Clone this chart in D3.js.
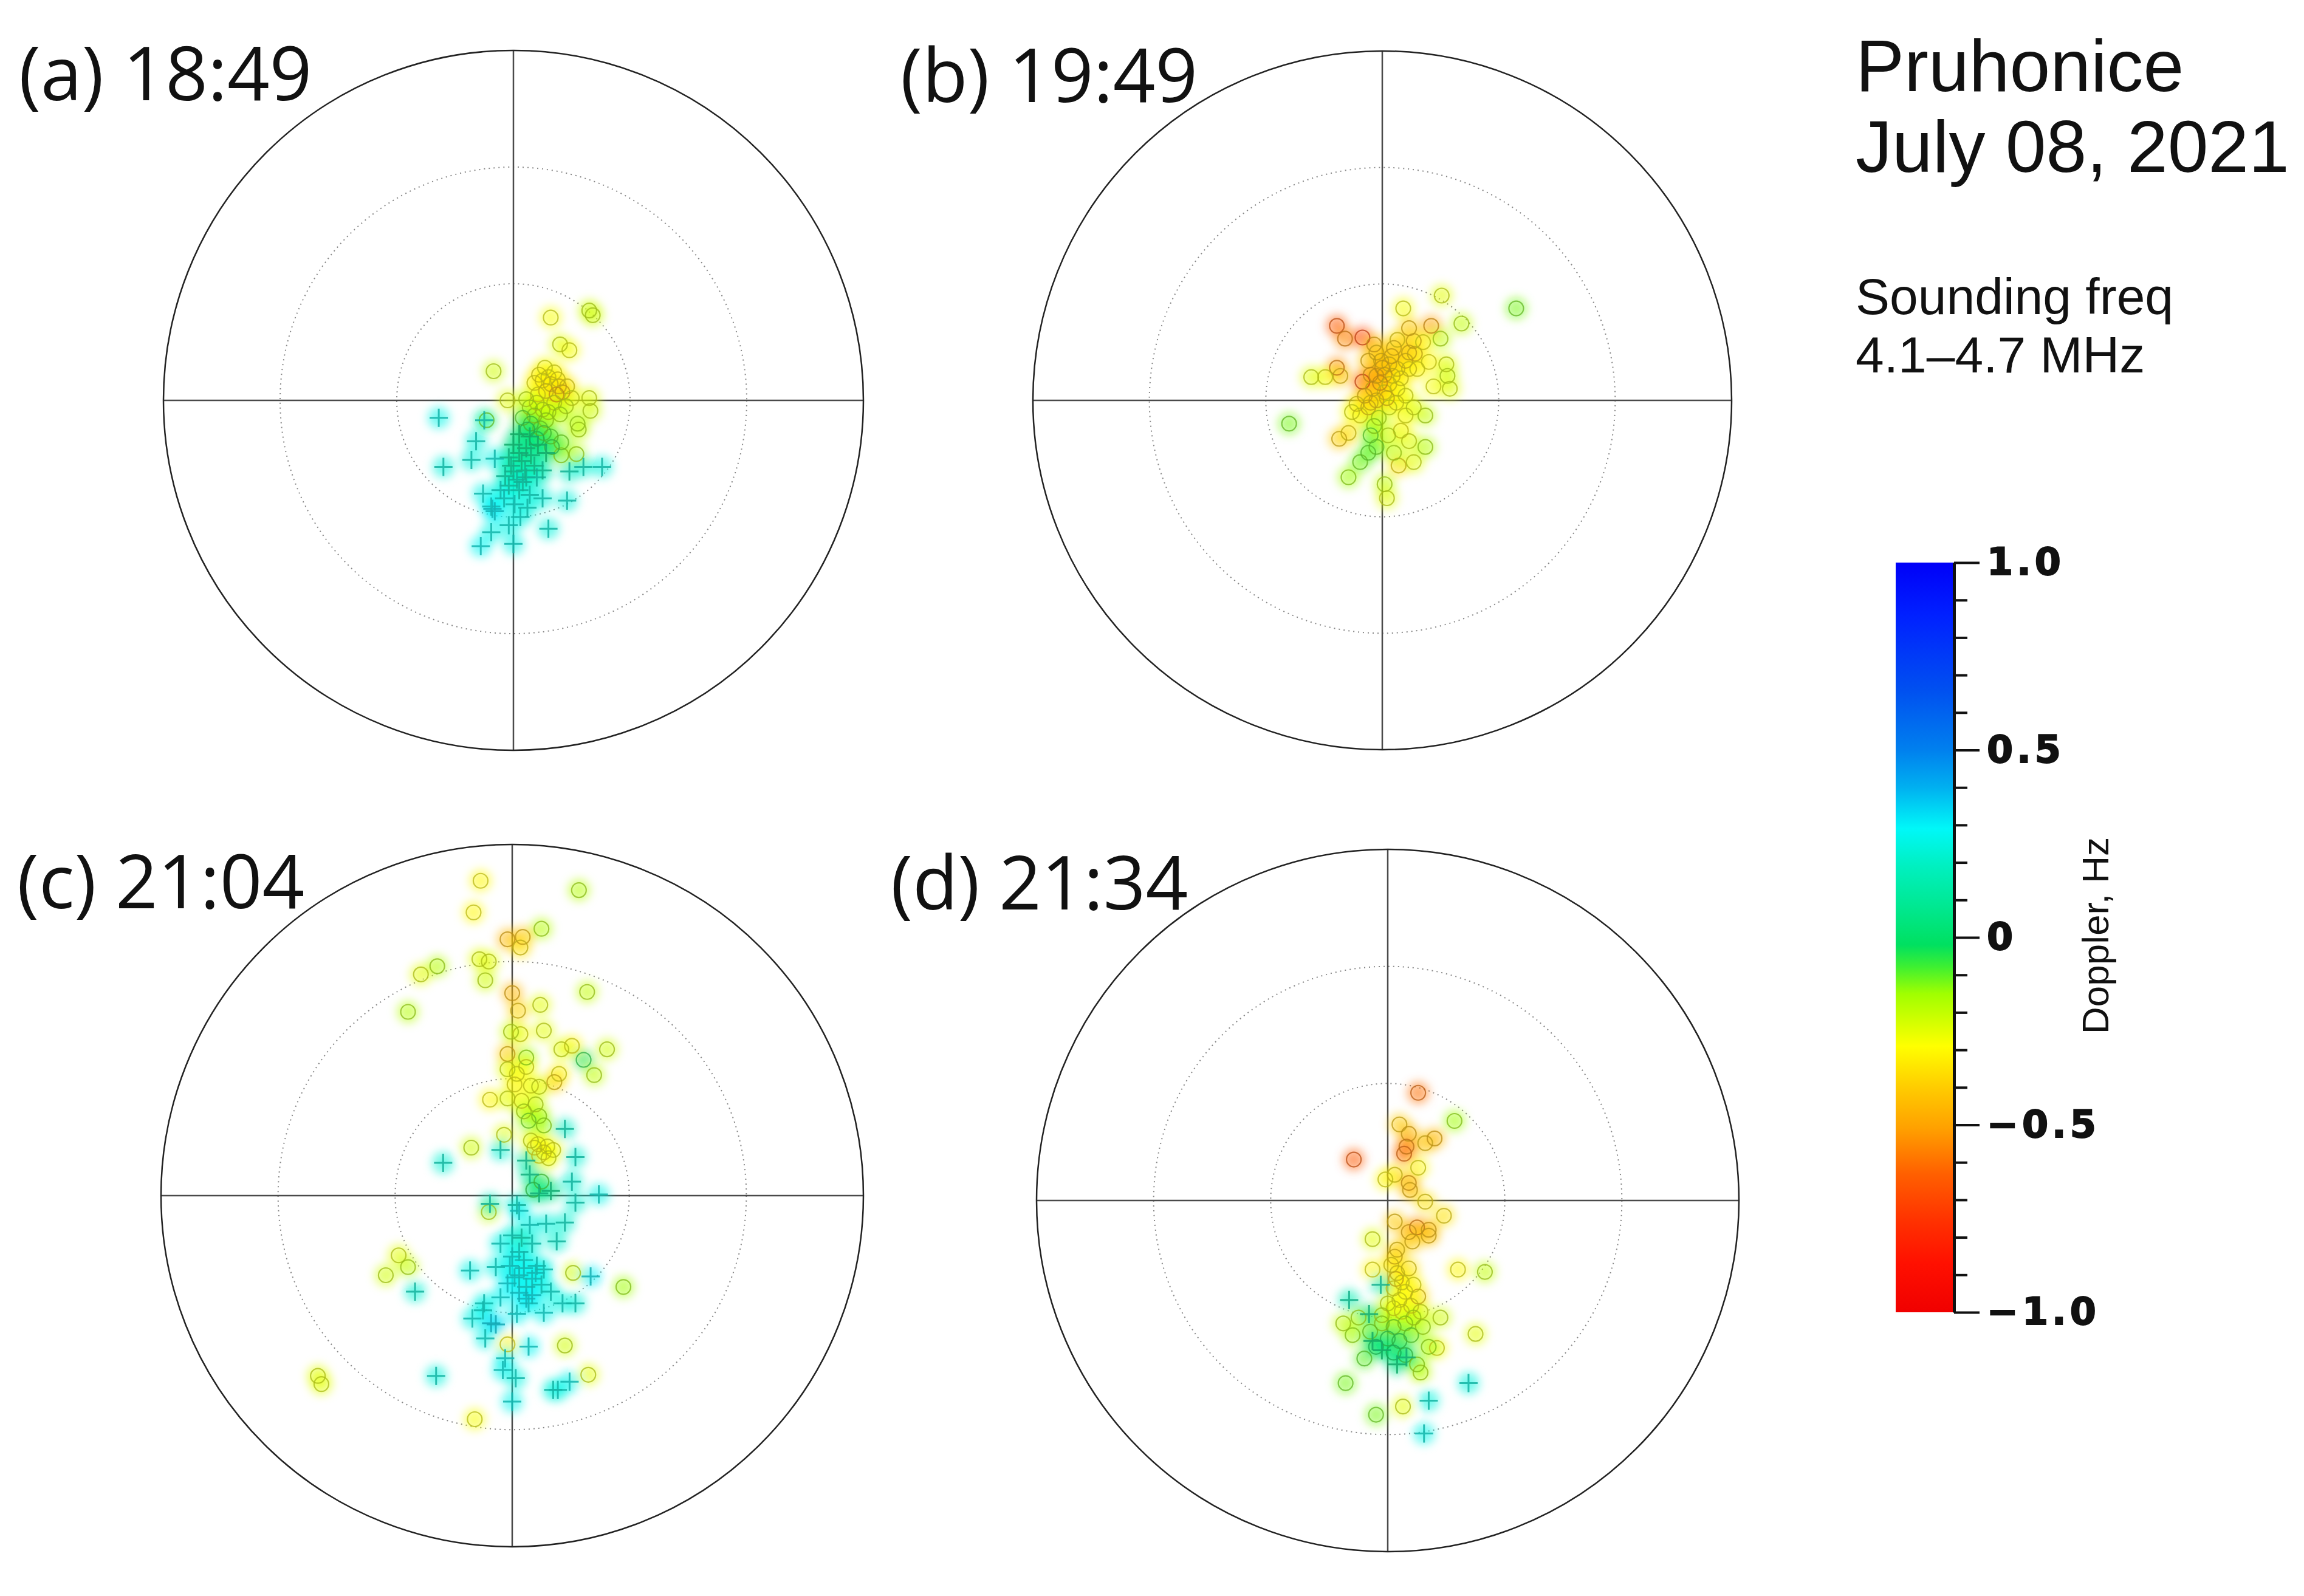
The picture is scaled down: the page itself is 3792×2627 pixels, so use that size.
<!DOCTYPE html>
<html>
<head>
<meta charset="utf-8">
<script src="https://cdn.jsdelivr.net/npm/d3@7"></script>
<style>
  html, body { margin: 0; padding: 0; background: #fff; }
  svg { display: block; }
</style>
</head>
<body>
<svg id="chart" width="3792" height="2627"></svg>
<script>
// panel titles
const panelLetters = ["(a)", "(b)", "(c)", "(d)"];
const panelTimes = ["18:49", "19:49", "21:04", "21:34"];
const stationLines = ["Pruhonice", "July 08, 2021"];
const freqLines = ["Sounding freq", "4.1\u20134.7 MHz"];
const colorbarTitle = "Doppler, Hz";

// rings of the polar plot (outer one is solid)
const ringValues = [1, 2];
const outerRing = 3;

// colour table, Doppler (Hz) -> colour
const colorStops = [1.0, 0.86, 0.66, 0.5, 0.4, 0.29, 0.19, 0.08, -0.02, -0.08, -0.15, -0.29, -0.4, -0.51, -0.63, -0.76, -0.87, -1.0];
const colorStopColors = ["#0000f8", "#0020ff", "#0050f0", "#0080ee", "#00b0f0", "#00f8f8", "#00f0c0", "#00e890", "#00e060",
  "#40f030", "#a0ff00", "#ffff00", "#ffcc00", "#ffa000", "#ff6000", "#ff3000", "#ff1000", "#f00000"];
const colorbarMajorTicks = [-1, -0.5, 0, 0.5, 1];
const colorbarTickLabels = ["\u22121.0", "\u22120.5", "0", "0.5", "1.0"];
const colorbarMinorTicks = [-0.9, -0.8, -0.7, -0.6, -0.4, -0.3, -0.2, -0.1, 0.1, 0.2, 0.3, 0.4, 0.6, 0.7, 0.8, 0.9];

// points: [east, north, doppler]  (east/north in ring units, outer ring = 3)
const pointsA = [
  [0.32, 0.71, -0.28], [0.65, 0.77, -0.22], [0.68, 0.73, -0.22], [0.40, 0.48, -0.25], [0.48, 0.43, -0.28],
  [-0.17, 0.25, -0.22], [0.18, 0.15, -0.3], [0.25, 0.17, -0.32], [0.32, 0.14, -0.35], [0.39, 0.12, -0.38],
  [0.46, 0.12, -0.33], [0.42, 0.07, -0.42], [0.37, 0.05, -0.48], [0.28, 0.08, -0.36], [0.21, 0.05, -0.3],
  [0.30, 0.20, -0.3], [0.35, 0.24, -0.3], [0.27, 0.28, -0.28], [0.22, 0.22, -0.32], [0.65, 0.02, -0.25],
  [0.66, -0.09, -0.22], [0.55, -0.20, -0.18], [0.56, -0.25, -0.2], [-0.05, 0.00, -0.25], [-0.23, -0.17, -0.12],
  [0.41, -0.47, -0.15], [0.54, -0.46, -0.18], [0.14, -0.06, -0.18], [0.25, -0.08, -0.2], [0.18, -0.13, -0.15],
  [0.28, -0.17, -0.16], [0.35, -0.02, -0.25], [0.23, -0.24, -0.12], [0.32, -0.31, -0.1], [0.41, -0.36, -0.12],
  [0.11, 0.01, -0.22], [0.08, -0.15, -0.1], [0.15, -0.20, -0.08], [0.45, -0.05, -0.22], [0.50, 0.02, -0.26],
  [0.40, -0.12, -0.18], [0.33, -0.40, -0.06], [0.12, -0.25, -0.04], [0.20, -0.33, -0.03], [0.30, -0.10, -0.2],
  [0.20, -0.02, -0.24], [0.38, 0.18, -0.32], [0.26, -0.28, -0.08],
  [0.05, -0.29, 0.03], [0.14, -0.31, 0.04], [0.00, -0.38, 0.06], [0.11, -0.41, 0.06], [0.21, -0.38, 0.04],
  [0.28, -0.45, 0.06], [-0.04, -0.49, 0.12], [0.07, -0.52, 0.1], [0.18, -0.56, 0.12], [0.00, -0.61, 0.16],
  [-0.07, -0.65, 0.18], [0.11, -0.66, 0.18], [0.20, -0.66, 0.22], [-0.04, -0.73, 0.2], [0.05, -0.77, 0.22],
  [0.14, -0.81, 0.24], [-0.11, -0.77, 0.25], [0.05, -0.45, 0.09], [0.15, -0.47, 0.08], [-0.02, -0.56, 0.14],
  [0.10, -0.60, 0.15], [0.25, -0.60, 0.16], [0.03, -0.68, 0.2], [-0.64, -0.15, 0.26], [-0.25, -0.17, 0.24],
  [-0.32, -0.35, 0.24], [-0.36, -0.51, 0.24], [-0.60, -0.57, 0.24], [-0.16, -0.50, 0.26], [0.76, -0.57, 0.24],
  [0.48, -0.61, 0.2], [0.60, -0.57, 0.22], [-0.26, -0.80, 0.26], [-0.18, -0.93, 0.3], [-0.19, -0.91, 0.28],
  [-0.16, -0.95, 0.3], [0.01, -0.89, 0.25], [0.25, -0.84, 0.24], [0.46, -0.86, 0.24], [0.06, -1.00, 0.25],
  [-0.04, -1.07, 0.26], [-0.19, -1.13, 0.26], [0.30, -1.10, 0.24], [-0.28, -1.25, 0.28], [0.00, -1.23, 0.26],
  [0.08, -0.70, 0.2], [-0.08, -0.84, 0.26], [0.12, -0.92, 0.24]
];

const pointsB = [
  [0.51, 0.90, -0.25], [1.15, 0.79, -0.12], [0.18, 0.79, -0.28], [0.68, 0.66, -0.2], [-0.39, 0.64, -0.65],
  [-0.32, 0.53, -0.55], [-0.17, 0.54, -0.72], [-0.07, 0.48, -0.45], [0.23, 0.62, -0.42], [0.42, 0.64, -0.5],
  [0.13, 0.52, -0.35], [0.27, 0.51, -0.4], [0.28, 0.40, -0.38], [0.50, 0.53, -0.2], [0.55, 0.31, -0.25],
  [0.56, 0.21, -0.22], [0.44, 0.12, -0.28], [0.58, 0.10, -0.25], [-0.39, 0.28, -0.55], [-0.36, 0.21, -0.4],
  [-0.49, 0.20, -0.28], [-0.61, 0.20, -0.25], [-0.17, 0.16, -0.7], [-0.05, 0.41, -0.4], [-0.12, 0.34, -0.42],
  [-0.01, 0.34, -0.4], [0.06, 0.31, -0.38], [0.13, 0.27, -0.35], [0.02, 0.22, -0.42], [0.09, 0.21, -0.36],
  [-0.05, 0.21, -0.45], [0.06, 0.14, -0.33], [0.16, 0.19, -0.32], [0.20, 0.34, -0.38], [0.23, 0.41, -0.4],
  [-0.08, 0.10, -0.4], [0.02, 0.07, -0.32], [0.13, 0.10, -0.3], [-0.15, 0.04, -0.42], [-0.05, 0.00, -0.4],
  [-0.22, -0.03, -0.35], [-0.12, -0.06, -0.38], [-0.19, -0.13, -0.3], [-0.26, -0.10, -0.28], [0.06, -0.06, -0.25],
  [0.20, 0.04, -0.28], [0.23, 0.27, -0.33], [0.30, 0.27, -0.3], [0.00, 0.28, -0.45], [-0.02, 0.15, -0.5],
  [0.08, 0.38, -0.42], [-0.10, 0.22, -0.48], [-0.80, -0.20, -0.12], [-0.37, -0.33, -0.4], [-0.29, -0.28, -0.35],
  [0.16, -0.26, -0.3], [0.23, -0.35, -0.25], [0.14, -0.56, -0.35], [0.27, -0.53, -0.25], [0.37, -0.40, -0.18],
  [0.37, -0.13, -0.2], [-0.29, -0.66, -0.15], [-0.19, -0.53, -0.12], [-0.10, -0.30, -0.1], [-0.05, -0.40, -0.12],
  [-0.07, -0.22, -0.15], [0.02, -0.72, -0.2], [0.04, -0.84, -0.25], [0.20, -0.13, -0.28], [0.27, -0.06, -0.25],
  [-0.03, -0.15, -0.2], [0.05, -0.30, -0.22], [-0.12, -0.45, -0.1], [0.10, -0.45, -0.2], [0.40, 0.33, -0.3],
  [0.35, 0.50, -0.3], [0.10, 0.45, -0.4], [0.04, 0.02, -0.38], [-0.10, -0.02, -0.36], [0.12, -0.02, -0.3]
];

const pointsC = [
  [-0.27, 2.69, -0.3], [0.57, 2.61, -0.18], [-0.33, 2.42, -0.3], [0.25, 2.28, -0.18], [-0.04, 2.19, -0.45],
  [0.09, 2.21, -0.42], [0.07, 2.12, -0.35], [-0.20, 2.00, -0.25], [-0.28, 2.02, -0.25], [-0.64, 1.96, -0.18],
  [-0.78, 1.89, -0.25], [-0.23, 1.84, -0.22], [0.64, 1.74, -0.2], [0.00, 1.73, -0.45], [0.24, 1.63, -0.25],
  [0.05, 1.58, -0.38], [-0.89, 1.57, -0.18], [0.27, 1.41, -0.25], [0.07, 1.38, -0.28], [-0.01, 1.40, -0.22],
  [0.51, 1.28, -0.3], [0.42, 1.25, -0.25], [0.81, 1.25, -0.22], [0.61, 1.16, -0.05], [-0.04, 1.21, -0.4],
  [0.12, 1.18, -0.15], [0.40, 1.04, -0.3], [0.70, 1.03, -0.2], [-0.04, 1.08, -0.25], [0.04, 1.04, -0.28],
  [0.36, 0.97, -0.38], [0.16, 0.94, -0.28], [0.23, 0.93, -0.25], [-0.19, 0.82, -0.3], [-0.04, 0.83, -0.25],
  [0.08, 0.81, -0.28], [-0.07, 0.52, -0.25], [-0.35, 0.41, -0.22], [0.19, 0.41, -0.28], [0.27, 0.37, -0.3],
  [0.35, 0.39, -0.28], [0.23, 0.34, -0.3], [0.31, 0.32, -0.26], [0.16, 0.47, -0.25], [0.14, 0.64, -0.12],
  [0.23, 0.68, -0.15], [0.27, 0.60, -0.15], [0.10, 0.72, -0.2], [0.02, 0.95, -0.3], [0.12, 1.10, -0.28],
  [0.20, 0.78, -0.22], [0.22, 0.44, -0.3], [0.30, 0.42, -0.28],
  [-0.97, -0.51, -0.25], [-1.08, -0.68, -0.22], [-0.89, -0.61, -0.2], [0.52, -0.66, -0.22], [0.95, -0.78, -0.15],
  [0.45, -1.28, -0.22], [-1.66, -1.54, -0.25], [-1.63, -1.61, -0.25], [0.65, -1.53, -0.25], [-0.32, -1.91, -0.28],
  [-0.20, -0.14, -0.22], [-0.04, -1.27, -0.3], [0.25, 0.12, -0.08], [0.18, 0.05, -0.05],
  [0.45, 0.57, 0.2], [0.54, 0.33, 0.22], [-0.59, 0.28, 0.22], [-0.10, 0.39, 0.22], [0.12, 0.30, 0.15],
  [0.15, 0.18, 0.12], [0.51, 0.12, 0.22], [0.74, 0.01, 0.26], [0.33, 0.04, 0.08], [0.23, 0.02, 0.1],
  [0.04, -0.08, 0.22], [0.06, -0.13, 0.28], [0.54, -0.06, 0.22], [-0.19, -0.07, 0.2], [0.45, -0.23, 0.22],
  [0.29, -0.24, 0.24], [0.15, -0.25, 0.26], [0.00, -0.34, 0.24], [0.38, -0.39, 0.22], [-0.10, -0.41, 0.26],
  [0.17, -0.41, 0.24], [0.06, -0.48, 0.25], [-0.02, -0.60, 0.28], [0.21, -0.60, 0.26], [-0.14, -0.61, 0.26],
  [0.27, -0.63, 0.25], [0.06, -0.68, 0.27], [0.17, -0.71, 0.28], [-0.04, -0.75, 0.3], [0.25, -0.76, 0.26],
  [0.33, -0.82, 0.25], [0.06, -0.83, 0.3], [0.17, -0.85, 0.3], [-0.10, -0.87, 0.28], [0.14, -0.92, 0.28],
  [0.10, -0.55, 0.26], [0.02, -0.70, 0.28], [0.12, -0.78, 0.27], [-0.36, -0.64, 0.26], [0.67, -0.69, 0.3],
  [0.43, -0.92, 0.25], [0.54, -0.92, 0.24], [-0.24, -0.92, 0.26], [-0.25, -0.98, 0.26], [0.04, -1.01, 0.28],
  [0.27, -1.00, 0.27], [-0.34, -1.05, 0.26], [-0.14, -1.10, 0.32], [-0.18, -1.09, 0.32], [-0.23, -1.22, 0.26],
  [0.14, -1.29, 0.28], [-0.06, -1.39, 0.28], [-0.08, -1.49, 0.27], [0.03, -1.56, 0.25], [-0.65, -1.54, 0.24],
  [0.35, -1.66, 0.24], [0.39, -1.66, 0.25], [0.49, -1.59, 0.27], [0.00, -1.76, 0.27], [-0.83, -0.82, 0.22],
  [0.10, -0.62, 0.28], [0.20, -0.66, 0.28], [0.00, -0.52, 0.27], [0.12, -0.88, 0.3], [0.08, -0.36, 0.2]
];

const pointsD = [
  [0.26, 0.92, -0.6], [0.57, 0.68, -0.15], [0.10, 0.65, -0.4], [0.18, 0.57, -0.45], [0.32, 0.49, -0.4],
  [0.40, 0.53, -0.45], [0.16, 0.46, -0.55], [0.14, 0.40, -0.6], [-0.29, 0.35, -0.65], [0.26, 0.28, -0.3],
  [0.06, 0.22, -0.35], [-0.02, 0.18, -0.3], [0.18, 0.15, -0.48], [0.19, 0.09, -0.42], [0.32, -0.01, -0.35],
  [0.48, -0.13, -0.35], [0.06, -0.18, -0.4], [0.25, -0.23, -0.55], [0.18, -0.27, -0.45], [0.35, -0.25, -0.45],
  [0.35, -0.30, -0.42], [0.21, -0.35, -0.4], [-0.13, -0.33, -0.25], [0.08, -0.42, -0.38], [0.06, -0.48, -0.4],
  [-0.13, -0.59, -0.3], [0.60, -0.59, -0.3], [0.07, -0.67, -0.4], [0.26, -0.82, -0.38], [0.83, -0.61, -0.2],
  [0.75, -1.14, -0.25], [-0.36, -1.56, -0.12], [0.13, -1.76, -0.25], [-0.10, -1.83, -0.12], [0.28, -1.47, -0.2],
  [0.42, -1.26, -0.28],
  [0.05, -0.75, -0.3], [0.15, -0.78, -0.3], [0.22, -0.72, -0.3], [0.10, -0.85, -0.28], [0.20, -0.90, -0.3],
  [0.00, -0.88, -0.25], [0.12, -0.95, -0.28], [0.28, -0.95, -0.25], [0.08, -0.62, -0.33], [0.18, -0.58, -0.35],
  [0.03, -0.55, -0.33], [0.12, -0.70, -0.3], [0.05, -0.92, -0.28],
  [-0.05, -1.05, -0.15], [0.05, -1.08, -0.12], [0.15, -1.05, -0.15], [-0.15, -1.12, -0.12], [0.00, -1.18, -0.05],
  [0.10, -1.20, -0.05], [0.20, -1.15, -0.1], [-0.10, -1.25, -0.03], [0.05, -1.30, -0.02], [0.15, -1.32, -0.06],
  [-0.25, -1.00, -0.18], [0.30, -1.08, -0.18], [-0.30, -1.15, -0.15], [0.35, -1.25, -0.15], [-0.20, -1.35, -0.1],
  [0.25, -1.40, -0.15], [-0.05, -0.98, -0.2], [0.22, -1.00, -0.2], [-0.38, -1.05, -0.2], [0.45, -1.00, -0.22],
  [-0.06, -0.72, 0.18], [-0.33, -0.85, 0.16], [-0.13, -1.20, 0.04], [0.69, -1.56, 0.24], [0.35, -1.71, 0.24],
  [0.31, -1.99, 0.26], [0.16, -1.34, 0.08], [-0.16, -0.97, 0.08], [-0.05, -1.28, 0.04], [0.08, -1.40, 0.06]
];

const panelPoints = [pointsA, pointsB, pointsC, pointsD];

// page layout (pixels)
const W = 3792, H = 2627;
const panelBoxes = [
  { cx: 845, cy: 659, r: 576, lx: 31, ly: 165 },
  { cx: 2275, cy: 659, r: 575, lx: 1482, ly: 168 },
  { cx: 843, cy: 1968, r: 578, lx: 28, ly: 1495 },
  { cx: 2284, cy: 1976, r: 578, lx: 1466, ly: 1497 }
];
const cbBox = { x: 3120, y: 926, w: 96, h: 1234 };

const svg = d3.select("#chart").attr("viewBox", `0 0 ${W} ${H}`);
svg.append("rect").attr("width", W).attr("height", H).attr("fill", "#fff");

const defs = svg.append("defs");
defs.append("filter").attr("id", "soft")
    .attr("x", "-20%").attr("y", "-20%").attr("width", "140%").attr("height", "140%")
  .append("feGaussianBlur").attr("stdDeviation", 8);

const color = d3.scaleLinear()
    .domain(colorStops)
    .range(colorStopColors)
    .interpolate(d3.interpolateRgb)
    .clamp(true);
// outlines come out darker / muddier than the colour table
const outline = d => d3.interpolateRgb(color(d), "#3c3c3c")(0.35);

panelPoints.forEach((pts, i) => {
    const b = panelBoxes[i];
    const x = d3.scaleLinear().domain([-outerRing, outerRing]).range([b.cx - b.r, b.cx + b.r]);
    const y = d3.scaleLinear().domain([-outerRing, outerRing]).range([b.cy + b.r, b.cy - b.r]);
    const g = svg.append("g");

    // dotted range rings
    g.selectAll("circle.ring")
        .data(ringValues)
        .enter().append("circle")
        .attr("class", "ring")
        .attr("cx", x(0)).attr("cy", y(0))
        .attr("r", d => x(d) - x(0))
        .attr("fill", "none")
        .attr("stroke", "#888")
        .attr("stroke-width", 2)
        .attr("stroke-dasharray", "2,6");

    // cross hairs
    g.append("line")
        .attr("x1", x(-outerRing)).attr("x2", x(outerRing))
        .attr("y1", y(0)).attr("y2", y(0))
        .attr("stroke", "#4a4a4a").attr("stroke-width", 2.5);
    g.append("line")
        .attr("x1", x(0)).attr("x2", x(0))
        .attr("y1", y(-outerRing)).attr("y2", y(outerRing))
        .attr("stroke", "#4a4a4a").attr("stroke-width", 2.5);

    // soft colour glow under the markers
    g.append("g").attr("filter", "url(#soft)")
      .selectAll("circle")
        .data(pts)
        .enter().append("circle")
        .attr("cx", d => x(d[0]))
        .attr("cy", d => y(d[1]))
        .attr("r", 18)
        .attr("fill", d => color(d[2]))
        .attr("opacity", 0.55);

    // circles for negative Doppler
    g.selectAll("circle.neg")
        .data(pts.filter(d => d[2] <= 0))
        .enter().append("circle")
        .attr("class", "neg")
        .attr("cx", d => x(d[0]))
        .attr("cy", d => y(d[1]))
        .attr("r", 12)
        .attr("fill", "none")
        .attr("stroke", d => outline(d[2]))
        .attr("stroke-width", 2.2)
        .attr("opacity", 0.75);

    // plus signs for positive Doppler
    g.selectAll("path.pos")
        .data(pts.filter(d => d[2] > 0))
        .enter().append("path")
        .attr("class", "pos")
        .attr("d", d => {
            const px = x(d[0]), py = y(d[1]);
            return `M${px - 15},${py}H${px + 15}M${px},${py - 15}V${py + 15}`;
        })
        .attr("stroke", d => outline(d[2]))
        .attr("stroke-width", 3)
        .attr("opacity", 0.85);

    // outer ring
    g.append("circle")
        .attr("cx", x(0)).attr("cy", y(0))
        .attr("r", x(outerRing) - x(0))
        .attr("fill", "none")
        .attr("stroke", "#222")
        .attr("stroke-width", 2.5);

    svg.append("text")
        .attr("x", b.lx).attr("y", b.ly)
        .attr("font-family", "'Open Sans', 'Noto Sans', sans-serif")
        .attr("font-size", 122)
        .attr("fill", "#111")
        .text(panelLetters[i] + " " + panelTimes[i]);
});

// station / date text
svg.append("g").selectAll("text")
    .data(stationLines)
    .enter().append("text")
    .attr("x", 3054)
    .attr("y", (d, i) => 150 + i * 133)
    .attr("font-family", "'Liberation Sans', Arial, sans-serif")
    .attr("font-size", 120)
    .attr("fill", "#111")
    .text(d => d);

svg.append("g").selectAll("text")
    .data(freqLines)
    .enter().append("text")
    .attr("x", 3054)
    .attr("y", (d, i) => 517 + i * 96)
    .attr("font-family", "'Liberation Sans', Arial, sans-serif")
    .attr("font-size", 84)
    .attr("fill", "#111")
    .text(d => d);

// colour bar
const grad = defs.append("linearGradient").attr("id", "cbgrad")
    .attr("x1", 0).attr("x2", 0).attr("y1", 0).attr("y2", 1);
grad.selectAll("stop")
    .data(colorStops)
    .enter().append("stop")
    .attr("offset", d => (1 - d) / 2)
    .attr("stop-color", d => color(d));

svg.append("rect")
    .attr("x", cbBox.x).attr("y", cbBox.y)
    .attr("width", cbBox.w).attr("height", cbBox.h)
    .attr("fill", "url(#cbgrad)");

const cbY = d3.scaleLinear().domain([-1, 1]).range([cbBox.y + cbBox.h, cbBox.y]);

const minorAxis = svg.append("g")
    .attr("transform", `translate(${cbBox.x + cbBox.w},0)`)
    .call(d3.axisRight(cbY).tickValues(colorbarMinorTicks).tickSize(22).tickSizeOuter(0).tickFormat(""));
minorAxis.select(".domain").remove();
minorAxis.selectAll(".tick line").attr("stroke", "#111").attr("stroke-width", 4);

const majorAxis = svg.append("g")
    .attr("transform", `translate(${cbBox.x + cbBox.w},0)`)
    .call(d3.axisRight(cbY).tickValues(colorbarMajorTicks).tickSize(42).tickSizeOuter(0).tickPadding(12)
        .tickFormat((d, i) => colorbarTickLabels[i]));
majorAxis.select(".domain").attr("stroke", "#111").attr("stroke-width", 5);
majorAxis.selectAll(".tick line").attr("stroke", "#111").attr("stroke-width", 4);
majorAxis.selectAll(".tick text")
    .attr("font-family", "'DejaVu Sans', sans-serif")
    .attr("font-weight", "bold")
    .attr("font-size", 62)
    .attr("letter-spacing", 6)
    .attr("stroke", "#111")
    .attr("stroke-width", 2)
    .attr("fill", "#111");

svg.append("text")
    .attr("transform", "translate(3470,1540) rotate(-90)")
    .attr("text-anchor", "middle")
    .attr("font-family", "'Liberation Sans', Arial, sans-serif")
    .attr("font-size", 62)
    .attr("fill", "#111")
    .text(colorbarTitle);
</script>
</body>
</html>
